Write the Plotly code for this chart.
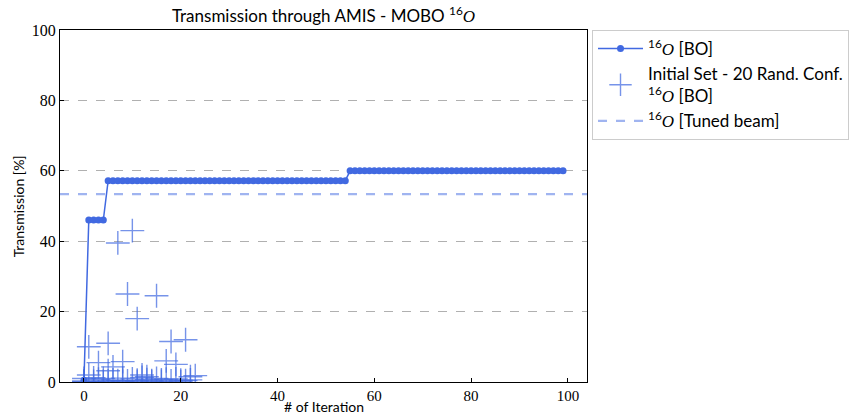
import plotly.graph_objects as go

iterations = list(range(100))
bo_transmission = [
    0.5, 46.0, 46.0, 46.0, 46.0, 57.2, 57.2, 57.2, 57.2, 57.2,
    57.2, 57.2, 57.2, 57.2, 57.2, 57.2, 57.2, 57.2, 57.2, 57.2,
    57.2, 57.2, 57.2, 57.2, 57.2, 57.2, 57.2, 57.2, 57.2, 57.2,
    57.2, 57.2, 57.2, 57.2, 57.2, 57.2, 57.2, 57.2, 57.2, 57.2,
    57.2, 57.2, 57.2, 57.2, 57.2, 57.2, 57.2, 57.2, 57.2, 57.2,
    57.2, 57.2, 57.2, 57.2, 57.2, 60.0, 60.0, 60.0, 60.0, 60.0,
    60.0, 60.0, 60.0, 60.0, 60.0, 60.0, 60.0, 60.0, 60.0, 60.0,
    60.0, 60.0, 60.0, 60.0, 60.0, 60.0, 60.0, 60.0, 60.0, 60.0,
    60.0, 60.0, 60.0, 60.0, 60.0, 60.0, 60.0, 60.0, 60.0, 60.0,
    60.0, 60.0, 60.0, 60.0, 60.0, 60.0, 60.0, 60.0, 60.0, 60.0,
]

init_x = [0, 1, 3, 5, 5, 6, 7, 8, 9, 10, 11, 12, 13, 15, 17, 18, 19, 21, 22, 23,
          0, 1, 2, 3, 4, 6, 7, 8, 9, 10, 11, 12, 13, 14, 15, 16, 17, 18, 19, 20, 21, 22,
          0, 2, 4, 5, 8, 11, 14, 16, 20]
init_y = [1.0, 10.0, 5.5, 11.0, 3.2, 4.3, 39.5, 5.8, 25.0, 43.0, 18.0, 2.0, 1.5, 24.5, 6.0, 11.5, 5.0, 12.0, 1.5, 1.8,
          0.3, 2.0, 1.2, 0.8, 1.0, 0.6, 0.4, 1.1, 0.3, 0.9, 0.5, 1.3, 0.7, 0.4, 1.0, 0.6, 0.8, 0.3, 0.9, 0.5, 0.4, 0.6,
          0.1, 0.2, 0.2, 0.3, 0.2, 0.2, 0.1, 0.2, 0.1]

tuned_beam = 53.4

x_ticks = [0, 20, 40, 60, 80, 100]
y_ticks = [0, 20, 40, 60, 80, 100]

royal = "#4169e1"
sans = "Lato, sans-serif"
serif = "Liberation Serif, serif"
O16 = '<sup>16</sup><span style="font-family:Liberation Serif"><i>O</i></span>'

fig = go.Figure()

fig.add_trace(go.Scatter(
    x=iterations, y=bo_transmission, mode="lines+markers",
    line=dict(color=royal, width=1.5),
    marker=dict(symbol="circle", size=7, color=royal),
    name=O16 + " [BO]",
))
fig.add_trace(go.Scatter(
    x=init_x, y=init_y, mode="markers",
    marker=dict(symbol="cross-thin", size=17, line=dict(color="rgba(65,105,225,0.72)", width=1.4)),
    name="Initial Set - 20 Rand. Conf.<br>" + O16 + " [BO]",
))
fig.add_trace(go.Scatter(
    x=[-4.95, 103.95], y=[tuned_beam, tuned_beam], mode="lines",
    line=dict(color="rgba(65,105,225,0.5)", width=2.2, dash="dash"),
    name=O16 + " [Tuned beam]",
))

fig.update_layout(
    width=856, height=416,
    margin=dict(l=60, r=269, t=30, b=34, autoexpand=False),
    paper_bgcolor="white", plot_bgcolor="white",
    title=dict(text="Transmission through AMIS - MOBO " + O16,
               x=(60 + 587) / 2 / 856, xanchor="center", y=0.975, yanchor="top",
               font=dict(family=sans, size=17, color="black")),
    font=dict(family=sans, size=14, color="black"),
    legend=dict(x=1.0095, y=1.0, xanchor="left", yanchor="top",
                bordercolor="#cccccc", borderwidth=1, bgcolor="white",
                font=dict(family=sans, size=17, color="black"),
                itemwidth=45, tracegroupgap=4),
    showlegend=True,
    annotations=[
        dict(text="# of Iteration", xref="paper", yref="paper", x=0.5, y=-0.071,
             xanchor="center", yanchor="middle", showarrow=False,
             font=dict(family=sans, size=14, color="black")),
        dict(text="Transmission [%]", xref="paper", yref="paper", x=-0.079, y=0.5,
             xanchor="center", yanchor="middle", showarrow=False, textangle=-90,
             font=dict(family=sans, size=14, color="black")),
    ],
)
fig.update_xaxes(
    range=[-4.95, 103.95], tickvals=x_ticks,
    ticks="inside", ticklen=4, tickcolor="black",
    showline=True, linecolor="black", linewidth=1, mirror=True,
    showgrid=False, zeroline=False, automargin=False,
    tickfont=dict(family=serif, size=15, color="black"),
)
fig.update_yaxes(
    range=[0, 100], tickvals=y_ticks,
    ticks="inside", ticklen=4, tickcolor="black",
    showline=True, linecolor="black", linewidth=1, mirror=True,
    showgrid=True, gridcolor="#b0b0b0", griddash="dash", gridwidth=1,
    zeroline=False, automargin=False,
    tickfont=dict(family=serif, size=16, color="black"),
)

fig.write_html("out.html")
